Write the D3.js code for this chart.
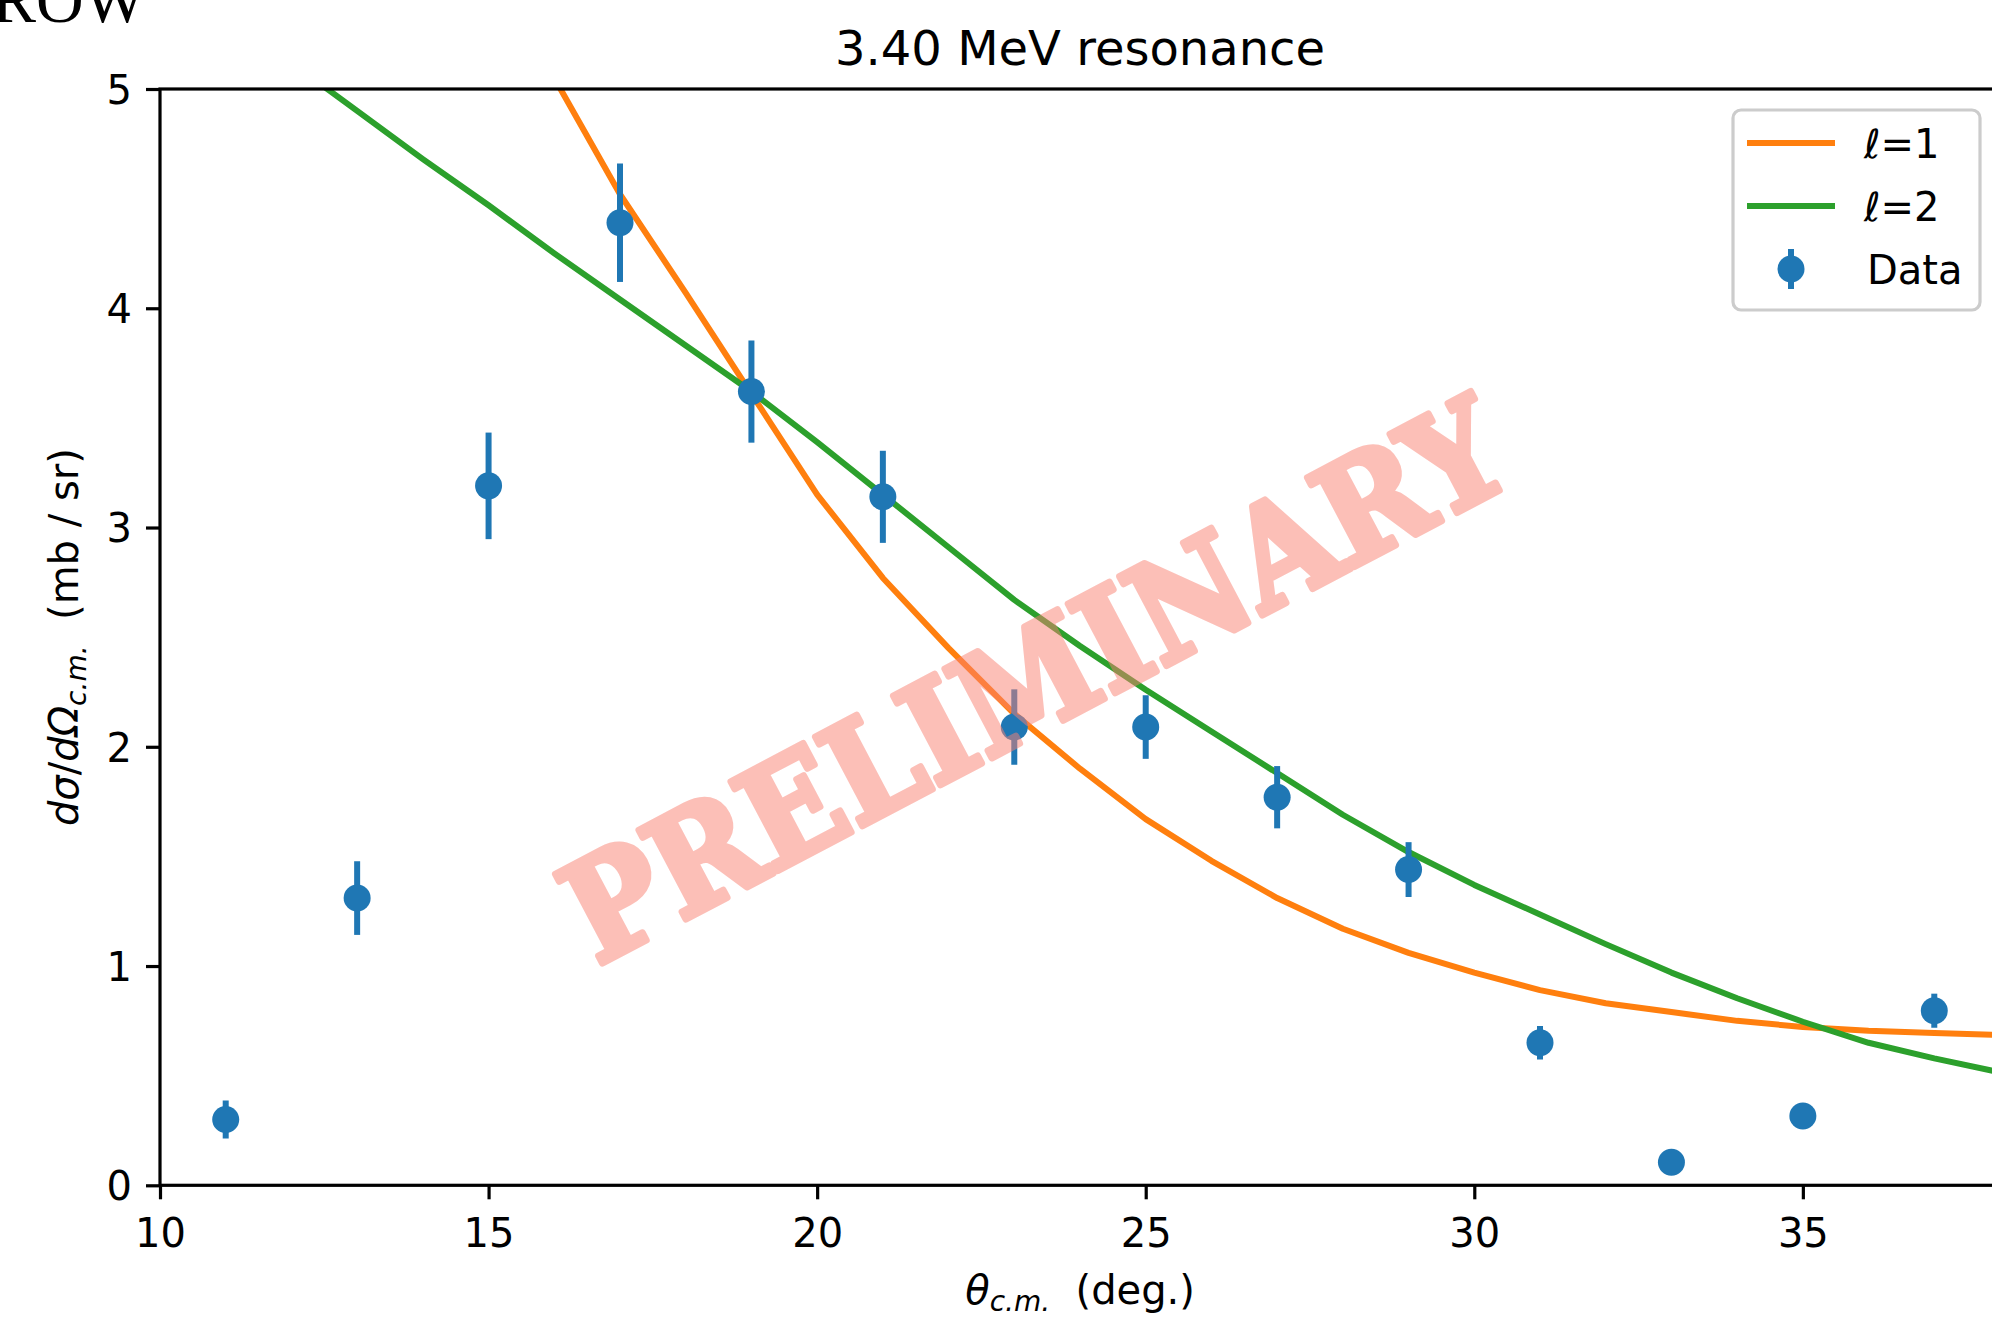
<!DOCTYPE html>
<html>
<head>
<meta charset="utf-8">
<script src="https://cdn.jsdelivr.net/npm/d3@7"></script>
<style>
  body { margin: 0; background: #fff; }
  svg { display: block; }
</style>
</head>
<body>
<svg id="chart" width="1992" height="1320"></svg>
<script>
// Measured differential cross sections (mb/sr) vs. c.m. angle (deg.)
const dataAngles = [11, 13, 15, 17, 19, 21, 23, 25, 27, 29, 31, 33, 35, 37];
const dataValues = [0.30, 1.31, 3.19, 4.39, 3.62, 3.14, 2.09, 2.09, 1.77, 1.44, 0.65, 0.105, 0.316, 0.796];
const dataErrors = [0.087, 0.168, 0.243, 0.27, 0.233, 0.21, 0.172, 0.145, 0.142, 0.125, 0.076, 0.03, 0.045, 0.078];

// DWBA-style angular distributions for the two transfer assumptions
const fitAnglesL1 = [15, 16, 17, 18, 19, 20, 21, 22, 23, 24, 25, 26, 27, 28, 29, 30, 31, 32, 33, 34, 35, 36, 37, 38];
const fitValuesL1 = [5.62, 5.05, 4.52, 4.07, 3.61, 3.15, 2.77, 2.45, 2.15, 1.90, 1.67, 1.48, 1.31, 1.17, 1.06, 0.97, 0.89, 0.83, 0.79, 0.75, 0.722, 0.705, 0.695, 0.686];
const fitAnglesL2 = [11, 12, 13, 14, 15, 16, 17, 18, 19, 20, 21, 22, 23, 24, 25, 26, 27, 28, 29, 30, 31, 32, 33, 34, 35, 36, 37, 38];
const fitValuesL2 = [5.34, 5.12, 4.90, 4.68, 4.47, 4.25, 4.04, 3.83, 3.62, 3.39, 3.15, 2.91, 2.67, 2.46, 2.26, 2.07, 1.88, 1.69, 1.52, 1.37, 1.235, 1.10, 0.97, 0.853, 0.746, 0.650, 0.579, 0.515];

const xTicks = [10, 15, 20, 25, 30, 35];
const yTicks = [0, 1, 2, 3, 4, 5];

const seriesLabels = ["\u2113=1", "\u2113=2", "Data"];
const seriesColors = ["#ff7f0e", "#2ca02c", "#1f77b4"];

const margin = { left: 160, top: 89, right: 2000, bottom: 1185.3 };
const FONT = "'DejaVu Sans', sans-serif";

const svg = d3.select("#chart");

const x = d3.scaleLinear().domain([10, 38]).range([margin.left, margin.right]);
const y = d3.scaleLinear().domain([0, 5]).range([margin.bottom, margin.top]);

// stray heading text at the top-left corner
svg.append("text")
  .attr("x", -8).attr("y", 22)
  .attr("font-family", "'Liberation Serif', serif")
  .attr("font-size", 66)
  .attr("fill", "#000")
  .text("ROW");

// clip region for the plot area
svg.append("defs").append("clipPath").attr("id", "plotArea")
  .append("rect")
  .attr("x", margin.left).attr("y", margin.top)
  .attr("width", margin.right - margin.left)
  .attr("height", margin.bottom - margin.top);

const plot = svg.append("g").attr("clip-path", "url(#plotArea)");

const line = d3.line().x(d => x(d[0])).y(d => y(d[1]));

plot.append("path")
  .datum(fitAnglesL1.map((a, i) => [a, fitValuesL1[i]]))
  .attr("d", line)
  .attr("fill", "none")
  .attr("stroke", seriesColors[0])
  .attr("stroke-width", 6)
  .attr("stroke-linejoin", "round");

plot.append("path")
  .datum(fitAnglesL2.map((a, i) => [a, fitValuesL2[i]]))
  .attr("d", line)
  .attr("fill", "none")
  .attr("stroke", seriesColors[1])
  .attr("stroke-width", 6)
  .attr("stroke-linejoin", "round");

const points = dataAngles.map((a, i) => ({ a, v: dataValues[i], e: dataErrors[i] }));

plot.selectAll("line.err").data(points).join("line")
  .attr("class", "err")
  .attr("x1", d => x(d.a)).attr("x2", d => x(d.a))
  .attr("y1", d => y(d.v - d.e)).attr("y2", d => y(d.v + d.e))
  .attr("stroke", seriesColors[2])
  .attr("stroke-width", 6);

plot.selectAll("circle.pt").data(points).join("circle")
  .attr("class", "pt")
  .attr("cx", d => x(d.a)).attr("cy", d => y(d.v))
  .attr("r", 13.5)
  .attr("fill", seriesColors[2]);

// axes
const xAxis = svg.append("g")
  .attr("transform", `translate(0,${margin.bottom})`)
  .call(d3.axisBottom(x).tickValues(xTicks).tickSize(14).tickPadding(14).tickSizeOuter(0).tickFormat(d3.format("d")));
const yAxis = svg.append("g")
  .attr("transform", `translate(${margin.left},0)`)
  .call(d3.axisLeft(y).tickValues(yTicks).tickSize(14).tickPadding(14).tickSizeOuter(0).tickFormat(d3.format("d")));

[xAxis, yAxis].forEach(g => {
  g.select(".domain").remove();
  g.selectAll(".tick line").attr("stroke", "#000").attr("stroke-width", 3.2);
  g.selectAll(".tick text")
    .attr("font-family", FONT).attr("font-size", 40).attr("fill", "#000");
});
xAxis.selectAll(".tick text").attr("y", 62).attr("dy", 0);
yAxis.selectAll(".tick text").attr("dy", "0.36em");

// frame
svg.append("rect")
  .attr("x", margin.left).attr("y", margin.top)
  .attr("width", margin.right - margin.left)
  .attr("height", margin.bottom - margin.top)
  .attr("fill", "none")
  .attr("stroke", "#000")
  .attr("stroke-width", 3.2);

// title
svg.append("text")
  .attr("x", (margin.left + margin.right) / 2).attr("y", 65)
  .attr("text-anchor", "middle")
  .attr("font-family", FONT).attr("font-size", 48)
  .text("3.40 MeV resonance");

// x label: θ_c.m. (deg.)
const xl = svg.append("text")
  .attr("x", (margin.left + margin.right) / 2).attr("y", 1304)
  .attr("text-anchor", "middle")
  .attr("font-family", FONT).attr("font-size", 40);
xl.append("tspan").attr("font-style", "italic").text("\u03b8");
xl.append("tspan").attr("font-style", "italic").attr("font-size", 28).attr("dy", 7).text("c.m.");
xl.append("tspan").attr("dy", -7).text("\u00a0\u00a0(deg.)");

// y label: dσ/dΩ_c.m. (mb / sr)
const yl = svg.append("text")
  .attr("transform", `translate(78,${(margin.top + margin.bottom) / 2}) rotate(-90)`)
  .attr("text-anchor", "middle")
  .attr("font-family", FONT).attr("font-size", 40);
yl.append("tspan").attr("font-style", "italic").text("d\u03c3");
yl.append("tspan").text("/");
yl.append("tspan").attr("font-style", "italic").text("d\u03a9");
yl.append("tspan").attr("font-style", "italic").attr("font-size", 28).attr("dy", 8).text("c.m.");
yl.append("tspan").attr("dy", -8).text("\u00a0\u00a0(mb / sr)");

// legend
const lg = svg.append("g");
lg.append("rect")
  .attr("x", 1733).attr("y", 110).attr("width", 247).attr("height", 200)
  .attr("rx", 8).attr("ry", 8)
  .attr("fill", "#fff").attr("fill-opacity", 0.8)
  .attr("stroke", "#cccccc").attr("stroke-width", 3.2);
const rowY = [143, 206, 269];
[0, 1].forEach(i => {
  lg.append("line")
    .attr("x1", 1747).attr("x2", 1835)
    .attr("y1", rowY[i]).attr("y2", rowY[i])
    .attr("stroke", seriesColors[i]).attr("stroke-width", 6);
});
lg.append("line")
  .attr("x1", 1791).attr("x2", 1791)
  .attr("y1", rowY[2] - 20).attr("y2", rowY[2] + 20)
  .attr("stroke", seriesColors[2]).attr("stroke-width", 6);
lg.append("circle")
  .attr("cx", 1791).attr("cy", rowY[2]).attr("r", 13.5)
  .attr("fill", seriesColors[2]);
seriesLabels.forEach((t, i) => {
  lg.append("text")
    .attr("x", i < 2 ? 1864 : 1867).attr("y", rowY[i] + 15)
    .attr("font-family", FONT).attr("font-size", 40)
    .text(t);
});

// watermark over the plot (heavy stroked serif, half transparent)
svg.append("g")
  .attr("opacity", 0.5)
  .append("text")
  .attr("transform", "translate(597,966) rotate(-27.8)")
  .attr("x", 0).attr("y", 0)
  .attr("font-family", "'DejaVu Serif', serif")
  .attr("font-weight", "bold")
  .attr("font-size", 138)
  .attr("textLength", 1040)
  .attr("lengthAdjust", "spacingAndGlyphs")
  .attr("fill", "salmon")
  .attr("stroke", "salmon")
  .attr("stroke-width", 7)
  .attr("stroke-linejoin", "round")
  .text("PRELIMINARY");
</script>
</body>
</html>
